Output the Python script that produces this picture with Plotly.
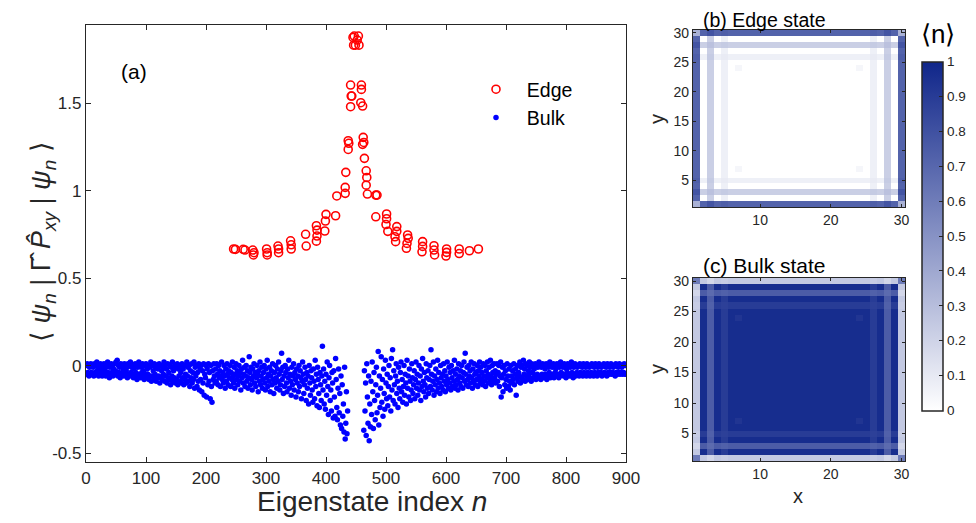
import plotly.graph_objects as go

# ---------------- data ----------------
# Edge states (red open circles): eigenstate index n and expectation value
edge_n = [246, 249, 262, 265, 278, 280, 279, 301, 302, 302, 320, 321, 321, 341, 342, 342,
          366, 367, 384, 385, 385, 384, 398, 399, 400, 416, 418, 432, 432, 433, 437, 438,
          437, 441, 442, 443, 441, 445, 447, 449, 446, 454, 455, 452,
          459, 459, 458, 461, 462, 461, 463, 464, 467, 468, 467, 469, 483, 485, 483, 501,
          501, 500, 503, 518, 518, 515, 516, 536, 537, 535, 534, 561, 561, 560, 580, 580,
          581, 601, 601, 600, 622, 622, 639, 654]
edge_v = [0.666, 0.664, 0.664, 0.660, 0.660, 0.645, 0.632, 0.666, 0.645, 0.632, 0.683, 0.666,
          0.645, 0.713, 0.690, 0.666, 0.750, 0.683, 0.799, 0.774, 0.740, 0.711, 0.769, 0.826,
          0.864, 0.856, 0.969, 0.984, 1.018, 1.104, 1.285, 1.270, 1.235, 1.479, 1.540, 1.540,
          1.603, 1.875, 1.883, 1.831, 1.831, 1.883, 1.831, 1.860,
          1.603, 1.578, 1.502, 1.483, 1.304, 1.264, 1.275, 1.184, 1.113, 1.075, 1.031, 0.980,
          0.974, 0.974, 0.850, 0.866, 0.839, 0.806, 0.767, 0.794, 0.767, 0.736, 0.708, 0.746,
          0.727, 0.698, 0.670, 0.708, 0.681, 0.650, 0.685, 0.660, 0.632, 0.666, 0.647, 0.626,
          0.666, 0.640, 0.656, 0.666]

# Bulk states (blue dots), values in hundredths, for n = 0..436
bulk_left_centi = [
    0, -5, 1, -4, 0, -6, -1, -5, 1, -4,
    0, -5, -1, -6, 1, -4, 0, -5, 2, -3,
    -1, -6, 0, -5, 1, -4, -2, -6, 0, -5,
    1, -3, 0, -6, -1, -5, 2, -4, 0, -7,
    -1, -5, 1, -4, 0, -6, -2, -5, 1, -3,
    2, -5, 3, -6, 0, -4, -1, -7, 1, -5,
    0, -4, -2, -6, 1, -5, 0, -3, -1, -7,
    1, -5, 0, -6, 2, -4, -1, -5, 0, -7,
    -2, -6, 1, -4, 0, -8, -1, -5, 2, -6,
    0, -7, -1, -4, 1, -6, -3, -8, 0, -5,
    1, -7, -2, -5, 0, -8, -1, -6, 2, -9,
    0, -6, -3, -8, 1, -5, -1, -9, 0, -7,
    -2, -6, 1, -10, 0, -7, -3, -8, -1, -5,
    2, -9, 0, -6, -2, -10, 1, -7, -4, -8,
    0, -11, -1, -6, 2, -9, -3, -7, 0, -10,
    -1, -8, 1, -11, -2, -6, 0, -9, -4, -10,
    1, -7, -2, -11, 0, -8, -5, -10, 2, -6,
    -1, -9, 0, -12, -3, -7, 1, -10, -4, -8,
    2, -13, -1, -6, 0, -12, -4, -9, 1, -14,
    -2, -8, 0, -15, -3, -10, 1, -17, -5, -7,
    0, -18, -2, -11, 1, -9, -4, -19, 0, -12,
    -21, -3, -8, 1, -6, -10,
    -2, -9, 1, -5, -11, 0, -7, -3, -12, -6,
    2, -8, -4, -10, 0, -6, -13, -2, -9, 1,
    -5, -11, -3, -7, 0, -12, -4, -8, 2, -6,
    -10, -1, -13, -5, 1, -8, -3, -11, -6, 0,
    -9, -4, -14, -2, -7, 3, -10, -5, -1, -12,
    -6, 0, -9, -3, -13, -7, 5, -4, -11, -1,
    -8, -14, -2, -6, 1, -10, -4, -12, -7, 0,
    -5, -15, -3, -9, 2, -11, -6, -1, -13, -8,
    -4, 0, -10, -14, -2, -7, 3, -12, -5, -9,
    -1, -15, -6, -3, -11, 1, -8, -16, -4, -10,
    0, -7, -13, -2, -9, 2, -5, -14, -11, -3,
    7, -8, -1, -16, -6, -12, 0, -4, -10, -15,
    -2, -7, 3, -13, -5, -9, -17, -1, -11, -6,
    1, -14, -4, -8, -18, -2, -10, -6, -15, 0,
    -12, -3, -7, -19, -9, 2, -5, -16, -11, -1,
    -8, -20, -4, -13, -6, -22, 0, -10, -17, -3,
    -7, -14, -21, -2, -9, -19, 3, -12, -5, -23,
    -1, -8, -16, -24, -4, -11, -20, -6, 11, -14,
    -2, -22, -9, -25, -5, -17, 2, -12, -28, -7,
    0, -20, -14, -26, -4, -10, -30, -3, -18, -29,
    4, -8, -24, -31, -13, -2, -27, -16, -34, -6,
    -36, -11, -29, -22, -38, -1, -42, -33, -15, -39, -26,
]
bulk_left_start = 0

# Bulk states, values in hundredths, for n = 463..899
bulk_right_centi = [
    -37, -3, -26, -10, -40, 1, -18, -33, -6, -43,
    -22, -35, -9, -28, 2, -15, -36, -4, -20, -31,
    -11, -1, -27, -17, 8, -34, -6, -24, -13, 5,
    -21, -8, -29, -2, -16, -25, 3, -10, -19, -5,
    -23, -12, 0, -18, -7, -26, 4, -14, 9, -20,
    -3, -11, -22, -6, 1, -16, -9, -24, -1, -13,
    -19, -4, 2, -15, -8, -21, -12, 0, -17, -5,
    -10, -22, 3, -13, -6, -18, -2, -9, -20, -14,
    1, -7, -16, -11, -3, -19, -8, 2, -13, -5,
    -17, -10, 0, -14, -6, -20, -2, -12, 4, -9,
    -15, -4, -11, -18, 1, -7, -13, -3, -16, -8,
    0, -12, 9, -5, -14, -9, 2, -17, -6, -11,
    -2, -15, -8, 3, -13, -4, -10, -16, 0, -7,
    -12, -5, -14, 1, -9, -3, -15, -6, -11, 2,
    -8, -13, -1, -10, -4, -14, 0, -7, -12, -3,
    -9, 3, -13, -5, -11, -2, -8, -14, 1, -6,
    -10, -3, -12, 0, -7, -13, -4, 2, -9, 7,
    -5, -11, -1, -8, -12, 0, -6, -3, -10, 2,
    -7, -13, -2, -9, 1, -5, -11, -4, -8, 0,
    -12, -3, -6, 2, -10, -1, -8, -4, -11, 1,
    -6, -9, 0, -12, -3, -7, 2, -5, -10, -1,
    -8, 3, -6, -11, 0, -4, -9, 1, -7, -3,
    -10, -5,
    1, -9, -4, 0, -12, -6, 2, -18, -7, -1,
    -15, -5, 0, -11, -3, -8, -13, 1, -6, -12,
    -2, -9, -14, 0, -6, -10, -3, -8, 1, -11,
    -5, -2, -17, -7, 0, -9, -4, -6, 2, -10,
    -1, -7, 0, -8, 3, -5, -2, -9, 1, -6,
    0, -8, -3, -5, 2, -7, -1, -9, 1, -4,
    0, -7, -2, -6, 1, -8, 0, -5, -1, -7,
    2, -6, 0, -8, -1, -5, 1, -7, 0, -6,
    -2, -5, 1, -8, 0, -6, -1, -4, 2, -7,
    0, -6, -1, -5, 1, -7, 0, -4, -2, -6,
    1, -5, 0, -7, -1, -6, 2, -4, 0, -5,
    -1, -6, 1, -5, 0, -7, -2, -4, 1, -6,
    0, -5, -1, -6, 2, -4, 0, -7, -1, -5,
    1, -6, 0, -4, -1, -5, 0, -6, 1, -4,
    0, -5, -1, -6, 1, -4, 0, -5, -1, -6,
    1, -4, 0, -5, -1, -6, 0, -4, 1, -5,
    0, -6, -1, -4, 1, -5, 0, -6, -1, -4,
    1, -5, 0, -4, -1, -6, 0, -5, 1, -4,
    0, -5, -1, -6, 1, -4, 0, -5, -1, -4,
    1, -5, 0, -4, -1, -5, 0, -6, 1, -4,
    0, -5, -1, -4, 1, -5, 0, -4, -1, -5,
    0, -4, 1, -5, 0,
]
bulk_right_start = 463

# Site occupation maps (30 x 30 lattice)
lattice_size = 30
edge_profile = [0.72, 0.0, 0.22, 0.0, 0.07]      # from the boundary inwards
edge_corner = 0.36
edge_dot = 0.04
dot_sites = [(7, 7), (7, 24), (24, 7), (24, 24)]
bulk_level = 0.97

x_ticks_main = [0, 100, 200, 300, 400, 500, 600, 700, 800, 900]
y_ticks_main = [-0.5, 0, 0.5, 1, 1.5]
cbar_ticks = [0, 0.1, 0.2, 0.3, 0.4, 0.5, 0.6, 0.7, 0.8, 0.9, 1]

# ---------------- build tables ----------------
bulk_n = [bulk_left_start + i for i in range(len(bulk_left_centi))] + \
         [bulk_right_start + i for i in range(len(bulk_right_centi))]
bulk_y = [v / 100 for v in bulk_left_centi + bulk_right_centi]

N = lattice_size
prof = [0.0] * N
for i, v in enumerate(edge_profile):
    prof[i] = v
    prof[N - 1 - i] = v
edge_grid = [[min(1.0, max(prof[ix], prof[iy]) + 0.3 * min(prof[ix], prof[iy]))
              for ix in range(N)] for iy in range(N)]
for cy in (0, N - 1):
    for cx in (0, N - 1):
        edge_grid[cy][cx] = edge_corner
for (sx, sy) in dot_sites:
    edge_grid[sy - 1][sx - 1] = edge_dot
bulk_grid = [[max(0.0, min(1.0, bulk_level - edge_grid[iy][ix])) for ix in range(N)]
             for iy in range(N)]
sites = list(range(1, N + 1))

# ---------------- figure ----------------
# The page body keeps an 8 px margin and the visible width ends at 968 px,
# so the figure is 960 x 515 and target positions are given in window pixels.
OFF = 8
W, H = 960, 515
def PX(x): return (x - OFF) / W
def PY(y): return 1 - (y - OFF) / H

FONT = "Liberation Sans, Arial, Helvetica, sans-serif"
AX = "rgb(38,38,38)"

fig = go.Figure()
fig.add_trace(go.Scatter(x=edge_n, y=edge_v, mode="markers", name="\u00a0\u00a0Edge",
                         marker=dict(symbol="circle-open", color="rgb(255,0,0)", size=8,
                                     line=dict(width=1.6, color="rgb(255,0,0)")),
                         xaxis="x", yaxis="y"))
fig.add_trace(go.Scatter(x=bulk_n, y=bulk_y, mode="markers", name="\u00a0\u00a0Bulk",
                         marker=dict(color="rgb(0,0,255)", size=5.5, line=dict(width=0)),
                         xaxis="x", yaxis="y"))

fig.add_trace(go.Heatmap(z=edge_grid, x=sites, y=sites, coloraxis="coloraxis",
                         xaxis="x2", yaxis="y2", showlegend=False))
fig.add_trace(go.Heatmap(z=bulk_grid, x=sites, y=sites, coloraxis="coloraxis",
                         xaxis="x3", yaxis="y3", showlegend=False))

common_ax = dict(showline=True, linecolor=AX, linewidth=1.2, mirror="ticks", ticks="inside",
                 tickcolor=AX, showgrid=False, zeroline=False, color=AX, automargin=False)

fig.update_layout(
    width=W, height=H, margin=dict(l=0, r=0, t=0, b=0, pad=0, autoexpand=False),
    paper_bgcolor="white", plot_bgcolor="white",
    font=dict(family=FONT, color=AX),
    xaxis=dict(domain=[PX(86), PX(626)], range=[0, 900], tickvals=x_ticks_main,
               ticklen=5, tickfont=dict(size=17), anchor="y", **common_ax),
    yaxis=dict(domain=[PY(462), PY(25)], range=[-0.551, 1.946], tickvals=y_ticks_main,
               ticktext=["-0.5", "0", "0.5", "1", "1.5"],
               ticklen=5, tickfont=dict(size=17), anchor="x", **common_ax),
    xaxis2=dict(domain=[PX(693), PX(905)], range=[0.5, 30.5], tickvals=[10, 20, 30],
                ticklen=3, tickfont=dict(size=14), anchor="y2", **common_ax),
    yaxis2=dict(domain=[PY(207), PY(30)], range=[0.5, 30.5], tickvals=[5, 10, 15, 20, 25, 30],
                ticklen=3, tickfont=dict(size=14), anchor="x2", **common_ax),
    xaxis3=dict(domain=[PX(693), PX(905)], range=[0.5, 30.5], tickvals=[10, 20, 30],
                ticklen=3, tickfont=dict(size=14), anchor="y3", **common_ax),
    yaxis3=dict(domain=[PY(461), PY(278)], range=[0.5, 30.5], tickvals=[5, 10, 15, 20, 25, 30],
                ticklen=3, tickfont=dict(size=14), anchor="x3", **common_ax),
    coloraxis=dict(cmin=0, cmax=1,
                   colorscale=[[0, "rgb(255,255,255)"], [1, "rgb(16,38,138)"]],
                   colorbar=dict(x=PX(922), xanchor="left", y=PY(236), yanchor="middle",
                                 len=349, lenmode="pixels", thickness=21, thicknessmode="pixels",
                                 outlinewidth=1.5, outlinecolor=AX, xpad=0, ypad=0,
                                 tickvals=cbar_ticks,
                                 ticktext=[("%g" % t) for t in cbar_ticks],
                                 ticks="inside", ticklen=4, tickcolor=AX,
                                 tickfont=dict(size=13.5, color=AX))),
    legend=dict(x=PX(476), y=PY(70), xanchor="left", yanchor="top", bgcolor="rgba(0,0,0,0)",
                font=dict(size=19.5, color="black"), tracegroupgap=0),
    showlegend=True,
)

ann = []
def A(text, x, y, size, angle=0, xanchor="center", color="black"):
    ann.append(dict(text=text, x=PX(x), y=PY(y), xref="paper", yref="paper", showarrow=False,
                    font=dict(size=size, color=color, family=FONT), textangle=angle,
                    xanchor=xanchor, yanchor="middle", borderpad=0))

A("(a)", 134, 72, 21)
A("Eigenstate index <i>n</i>", 372, 501, 28, color=AX)
A("⟨ <i>ψ</i><sub><i>n</i></sub> | Γ̂ <i>P̂</i><sub><i>xy</i></sub> | <i>ψ</i><sub><i>n</i></sub> ⟩",
  43, 242, 27, angle=-90, color=AX)
A("(b) Edge state", 702, 20.5, 19.5, xanchor="left")
A("(c) Bulk state", 702, 265, 21, xanchor="left")
A("y", 657, 119, 20, angle=-90, color=AX)
A("y", 657, 369, 20, angle=-90, color=AX)
A("x", 798, 496, 20, color=AX)
A("⟨n⟩", 938, 34, 26)
fig.update_layout(annotations=ann)

fig.write_html("out.html")
